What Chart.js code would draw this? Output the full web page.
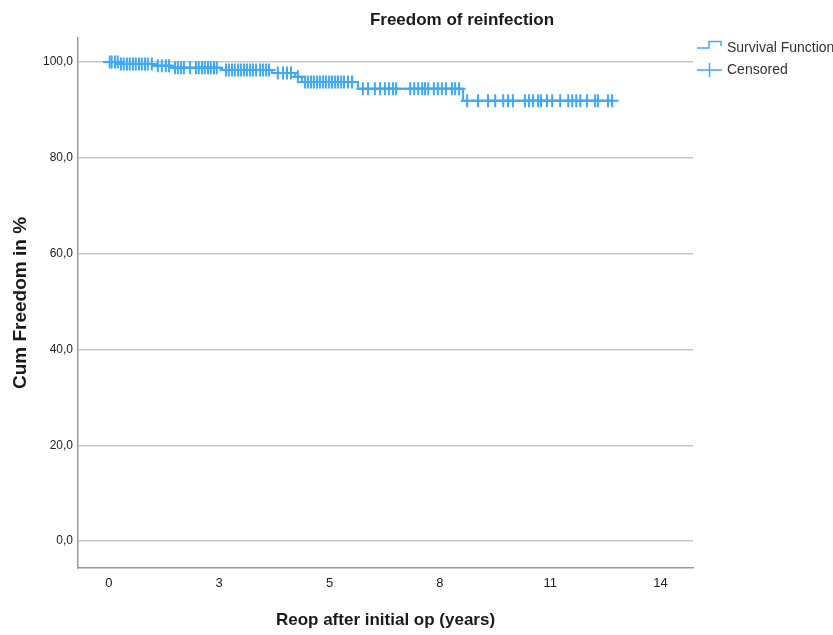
<!DOCTYPE html>
<html>
<head>
<meta charset="utf-8">
<script src="https://cdn.jsdelivr.net/npm/chart.js"></script>
<style>
  html, body { margin: 0; padding: 0; background: #fff; }
  #wrap { width: 833px; height: 635px; position: relative; }
</style>
</head>
<body>
<div id="wrap"><canvas id="kmChart"></canvas></div>
<script>
// Kaplan-Meier steps: time of each drop (years) and the cumulative freedom after it (%)
const eventTimes = [0, 0.25, 1.15, 1.57, 2.82, 4.06, 4.64, 4.81, 6.21, 8.83];
const survival = [100, 99.6, 99.2, 98.8, 98.3, 97.7, 96.9, 95.8, 94.4, 91.9];
const lastFollowUp = 12.54;

// censored follow-up times (years)
const censoredTimes = [
  0.02, 0.07, 0.15, 0.22, 0.30, 0.37, 0.45, 0.52, 0.60, 0.67, 0.75, 0.82, 0.90, 0.97, 1.07,
  1.22, 1.32, 1.42, 1.50,
  1.65, 1.72, 1.80, 1.87, 2.02, 2.17, 2.24, 2.32, 2.39, 2.47, 2.54, 2.62, 2.69,
  2.92, 2.99, 3.07, 3.14, 3.22, 3.29, 3.37, 3.44, 3.52, 3.59, 3.67, 3.77, 3.84, 3.92, 3.99,
  4.21, 4.34, 4.44, 4.54,
  4.71,
  4.89, 4.96, 5.04, 5.11, 5.19, 5.26, 5.34, 5.41, 5.49, 5.56, 5.64, 5.71, 5.79, 5.86, 5.96, 6.06,
  6.33, 6.46, 6.63, 6.76, 6.88, 6.98, 7.08, 7.16, 7.51, 7.61, 7.71, 7.81, 7.88, 7.96, 8.10, 8.20,
  8.30, 8.40, 8.55, 8.63, 8.73,
  8.93, 9.20, 9.45, 9.63, 9.83, 9.95, 10.07, 10.37, 10.47, 10.57, 10.70, 10.77, 10.92, 11.05,
  11.25, 11.45, 11.55, 11.65, 11.75, 11.92, 12.12, 12.19, 12.44, 12.54
];

// axis ticks
const xTickValues = [0, 2.75, 5.5, 8.25, 11, 13.75];
const xTickLabels = ['0', '3', '5', '8', '11', '14'];
const yTickValues = [0, 20, 40, 60, 80, 100];
const yTickLabels = ['0,0', '20,0', '40,0', '60,0', '80,0', '100,0'];

const BLUE = '#3ea9f5';
const SANS = "'Liberation Sans', Arial, sans-serif";

function survivalAt(t) {
  let s = survival[0];
  for (let i = 0; i < eventTimes.length; i++) {
    if (eventTimes[i] <= t) s = survival[i];
  }
  return s;
}

const curvePoints = eventTimes.map((t, i) => ({ x: t, y: survival[i] }));
curvePoints.push({ x: lastFollowUp, y: survival[survival.length - 1] });
const censoredPoints = censoredTimes.map(t => ({ x: t, y: survivalAt(t) }));

// title and legend drawn on the canvas
const decorations = {
  id: 'decorations',
  afterDraw(chart) {
    const ctx = chart.ctx;
    ctx.save();
    ctx.fillStyle = '#1a1a1a';
    ctx.textBaseline = 'middle';
    ctx.font = "bold 17px " + SANS;
    ctx.textAlign = 'center';
    ctx.fillText('Freedom of reinfection', 462, 20);

    // legend
    ctx.strokeStyle = BLUE;
    ctx.lineWidth = 1.5;
    ctx.beginPath();
    ctx.moveTo(697, 48);
    ctx.lineTo(709, 48);
    ctx.lineTo(709, 41.5);
    ctx.lineTo(721, 41.5);
    ctx.lineTo(721, 46);
    ctx.stroke();
    ctx.beginPath();
    ctx.moveTo(697, 70);
    ctx.lineTo(722, 70);
    ctx.moveTo(709.5, 63);
    ctx.lineTo(709.5, 77);
    ctx.stroke();

    ctx.fillStyle = '#333';
    ctx.textAlign = 'left';
    ctx.font = "14px " + SANS;
    ctx.fillText('Survival Function', 727, 48);
    ctx.fillText('Censored', 727, 70);
    ctx.restore();
  }
};

new Chart(document.getElementById('kmChart'), {
  type: 'scatter',
  data: {
    datasets: [
      {
        label: 'Survival Function',
        type: 'line',
        data: curvePoints,
        stepped: 'before',
        borderColor: BLUE,
        borderWidth: 2,
        pointRadius: 0,
        fill: false
      },
      {
        label: 'Censored',
        data: censoredPoints,
        pointStyle: 'cross',
        pointRadius: 6.5,
        borderColor: BLUE,
        backgroundColor: BLUE,
        pointBorderWidth: 2
      }
    ]
  },
  options: {
    responsive: true,
    maintainAspectRatio: false,
    animation: false,
    layout: { padding: { top: 38, right: 140, left: 0, bottom: 0 } },
    plugins: {
      legend: { display: false },
      tooltip: { enabled: false }
    },
    scales: {
      x: {
        type: 'linear',
        min: -0.77,
        max: 14.56,
        afterBuildTicks: s => { s.ticks = xTickValues.map(v => ({ value: v })); },
        afterFit: s => { s.height = 67; },
        grid: { display: false, drawTicks: false },
        border: { display: true, color: '#9a9a9a', width: 1.5 },
        ticks: {
          padding: 8,
          color: '#222',
          font: { family: SANS, size: 13 },
          maxRotation: 0,
          callback: (v, i) => xTickLabels[i]
        },
        title: {
          display: true,
          text: 'Reop after initial op (years)',
          color: '#1a1a1a',
          font: { family: SANS, size: 17, weight: 'bold' },
          padding: { top: 0, bottom: 4 }
        }
      },
      y: {
        min: -5.6,
        max: 105,
        afterBuildTicks: s => { s.ticks = yTickValues.map(v => ({ value: v })); },
        afterFit: s => { s.width = 78; },
        grid: { color: '#c6c6c6', lineWidth: 1.5, drawTicks: false },
        border: { display: true, color: '#9a9a9a', width: 1.5 },
        ticks: {
          padding: 5,
          color: '#222',
          font: { family: SANS, size: 12 },
          callback: (v, i) => yTickLabels[i]
        },
        title: {
          display: true,
          text: 'Cum Freedom in %',
          color: '#1a1a1a',
          font: { family: SANS, size: 19, weight: 'bold' },
          padding: { top: 9, bottom: 0 }
        }
      }
    }
  },
  plugins: [decorations]
});
</script>
</body>
</html>
